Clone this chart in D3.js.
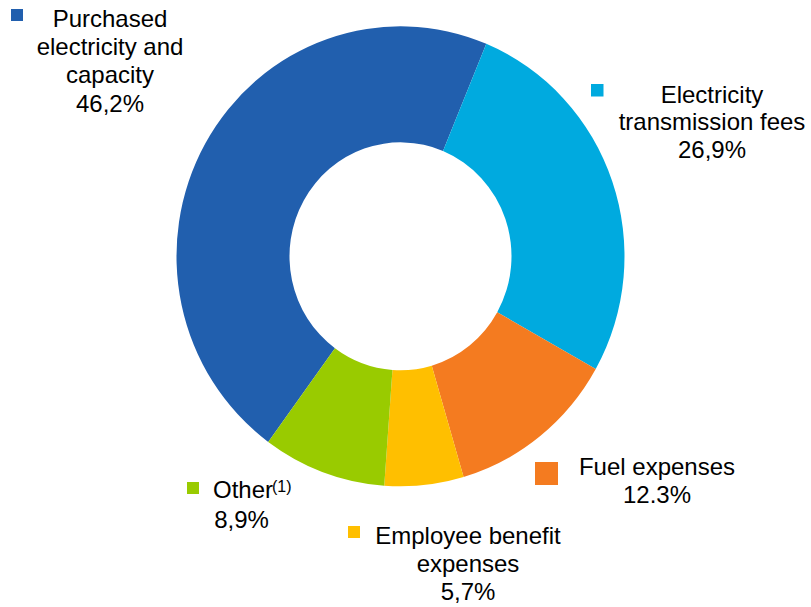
<!DOCTYPE html>
<html>
<head>
<meta charset="utf-8">
<script src="https://cdn.jsdelivr.net/npm/d3@7"></script>
<style>
  html, body { margin: 0; padding: 0; background: #fff; }
  svg { display: block; font-family: "Liberation Sans", Arial, sans-serif; }
</style>
</head>
<body>
<svg id="chart" width="811" height="607"></svg>
<script>
// Cost structure shares (%)
const categories = ["Purchased electricity and capacity", "Electricity transmission fees", "Fuel expenses", "Employee benefit expenses", "Other"];
const values = [46.2, 26.9, 12.3, 5.7, 8.9];
const valueLabels = ["46,2%", "26,9%", "12.3%", "5,7%", "8,9%"];
const labelLines = [
  ["Purchased", "electricity and", "capacity"],
  ["Electricity", "transmission fees"],
  ["Fuel expenses"],
  ["Employee benefit", "expenses"],
  ["Other"]
];
const colors = ["#215FAE", "#00AADF", "#F47B20", "#FFBF00", "#99CB00"];

const svg = d3.select("#chart");
const cx = 400.5, cy = 256.3, rOuter = 224, rInner = 111, yStretch = 230 / 224;

const pie = d3.pie()
  .sort(null)
  .value(d => d)
  .startAngle(-143.8 * Math.PI / 180)
  .endAngle(-143.8 * Math.PI / 180 + 2 * Math.PI);

const arc = d3.arc().innerRadius(rInner).outerRadius(rOuter);

const ring = svg.append("g")
  .attr("transform", `translate(${cx},${cy}) scale(1,${yStretch})`);

ring.selectAll("path")
  .data(pie(values))
  .join("path")
  .attr("d", arc)
  .attr("fill", (d, i) => colors[i]);

// Legend-style labels: marker square + centred text block
const layout = [
  { mx: 11, my: 9, ms: 12, tx: 110, ty: 27, lh: 28.2 },
  { mx: 591, my: 84, ms: 12.5, tx: 712, ty: 102.5, lh: 27.8 },
  { mx: 535, my: 462, ms: 23, tx: 657, ty: 475, lh: 28.3 },
  { mx: 348, my: 526, ms: 12, tx: 468, ty: 544, lh: 28 },
  { mx: 187, my: 482, ms: 12, tx: 241.5, ty: 498, lh: 30 }
];

const labels = svg.append("g").attr("font-size", 24).attr("fill", "#000");

categories.forEach((name, i) => {
  const L = layout[i];
  labels.append("rect")
    .attr("x", L.mx).attr("y", L.my)
    .attr("width", L.ms).attr("height", L.ms)
    .attr("fill", colors[i]);

  const lines = labelLines[i];
  if (name === "Other") {
    labels.append("text").attr("x", 213).attr("y", L.ty).text(lines[0]);
    labels.append("text")
      .attr("x", 272).attr("y", 491.5)
      .attr("font-size", 16)
      .text("(1)");
  } else {
    lines.forEach((ln, j) => {
      labels.append("text")
        .attr("x", L.tx).attr("y", L.ty + j * L.lh)
        .attr("text-anchor", "middle")
        .text(ln);
    });
  }
  labels.append("text")
    .attr("x", L.tx).attr("y", L.ty + lines.length * L.lh)
    .attr("text-anchor", "middle")
    .text(valueLabels[i]);
});
</script>
</body>
</html>
